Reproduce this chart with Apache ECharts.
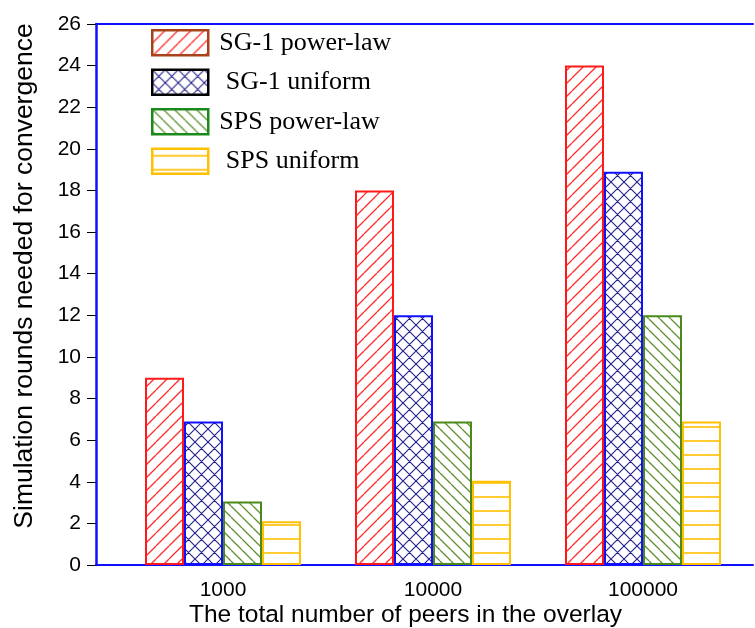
<!DOCTYPE html>
<html>
<head>
<meta charset="utf-8">
<script src="https://cdn.jsdelivr.net/npm/echarts@6/dist/echarts.min.js"></script>
<style>
html,body{margin:0;padding:0;background:#fff;}
#chart{width:755px;height:628px;}
</style>
</head>
<body>
<div id="chart"></div>
<script>
// ---- data ----
const categories = ['1000', '10000', '100000'];
const seriesNames = ['SG-1 power-law', 'SG-1 uniform', 'SPS power-law', 'SPS uniform'];
const sg1PowerLaw = [9, 18, 24];
const sg1Uniform = [6.9, 12, 18.9];
const spsPowerLaw = [3.05, 6.9, 12];
const spsUniform = [2.1, 4.05, 6.9];
const yTicks = [0, 26, 2]; // min, max, interval

// ---- patterns ----
function makePattern(w, h, draw) {
  const c = document.createElement('canvas');
  c.width = w; c.height = h;
  const ctx = c.getContext('2d');
  draw(ctx, w, h);
  return { image: c, repeat: 'repeat' };
}
const redHatch = makePattern(13, 13, (ctx, w, h) => {
  ctx.strokeStyle = '#ff2a2a'; ctx.lineWidth = 1.3;
  ctx.beginPath();
  for (const k of [-w, 0, w]) { ctx.moveTo(k, h); ctx.lineTo(k + w, 0); }
  ctx.stroke();
});
const blueCross = makePattern(13, 13, (ctx, w, h) => {
  ctx.strokeStyle = '#20208a'; ctx.lineWidth = 1.1;
  ctx.beginPath();
  for (const k of [-w, 0, w]) {
    ctx.moveTo(k, h); ctx.lineTo(k + w, 0);
    ctx.moveTo(k, 0); ctx.lineTo(k + w, h);
  }
  ctx.stroke();
});
const greenHatch = makePattern(11, 11, (ctx, w, h) => {
  ctx.strokeStyle = '#5f9030'; ctx.lineWidth = 1.3;
  ctx.beginPath();
  for (const k of [-w, 0, w]) { ctx.moveTo(k, 0); ctx.lineTo(k + w, h); }
  ctx.stroke();
});
const yellowLines = makePattern(8, 14, (ctx, w, h) => {
  ctx.strokeStyle = '#ffc000'; ctx.lineWidth = 1.6;
  ctx.beginPath(); ctx.moveTo(0, 7); ctx.lineTo(w, 7); ctx.stroke();
});

const fills = [redHatch, blueCross, greenHatch, yellowLines];
const borders = ['#ff1a1a', '#1010ff', '#4a8a1a', '#ffc000'];
const legendBorders = ['#a8421a', '#000000', '#1a8a1a', '#ffc000'];
const legendLabels = ['SG-1 power-law', ' SG-1 uniform', 'SPS power-law', ' SPS uniform'];
const values = [sg1PowerLaw, sg1Uniform, spsPowerLaw, spsUniform];

const chart = echarts.init(document.getElementById('chart'), null, { renderer: 'canvas' });
const sans = 'Liberation Sans, Arial, Helvetica, sans-serif';

const option = {
  animation: false,
  backgroundColor: '#fff',
  grid: [
    { left: 96, right: 2, top: 24, bottom: 63, containLabel: false, outerBoundsMode: 'none' },
    { left: 118, right: 7, top: 24, bottom: 63, containLabel: false, outerBoundsMode: 'none' }
  ],
  legend: {
    orient: 'vertical', left: 151, top: 29, padding: 0,
    itemWidth: 56, itemHeight: 25, itemGap: 12,
    icon: 'rect',
    textStyle: { fontFamily: 'Liberation Serif, Times New Roman, serif', fontSize: 26, color: '#000', lineHeight: 26, padding: [0, 0, 0, 6] },
    formatter: n => legendLabels[seriesNames.indexOf(n)],
    data: seriesNames.map((n, i) => ({ name: n, itemStyle: { borderColor: legendBorders[i], borderWidth: 2.5 } }))
  },
  xAxis: [
    {
      gridIndex: 0, type: 'value', min: 0, max: 1, position: 'bottom',
      axisLine: { show: true, lineStyle: { color: '#1010ff', width: 2 } },
      axisTick: { show: false }, axisLabel: { show: false }, splitLine: { show: false },
      name: 'The total number of peers in the overlay', nameLocation: 'middle', nameGap: 38,
      nameTextStyle: { fontFamily: sans, fontSize: 24.5, color: '#000', padding: [0, 38, 0, 0] }
    },
    {
      gridIndex: 0, type: 'value', min: 0, max: 1, position: 'top',
      axisLine: { show: true, lineStyle: { color: '#1010ff', width: 2 } },
      axisTick: { show: false }, axisLabel: { show: false }, splitLine: { show: false }
    },
    {
      gridIndex: 1, type: 'category', data: categories, position: 'bottom',
      axisLine: { show: false }, axisTick: { show: false },
      axisLabel: { fontFamily: sans, fontSize: 21, color: '#000', margin: 15 }
    }
  ],
  yAxis: [
    {
      gridIndex: 0, type: 'value', min: yTicks[0], max: yTicks[1], interval: yTicks[2],
      axisLine: { show: true, lineStyle: { color: '#1010ff', width: 2.5 } },
      axisTick: { show: true, length: 9, lineStyle: { color: '#000', width: 1 } },
      axisLabel: { fontFamily: sans, fontSize: 21, color: '#000', margin: 15 },
      splitLine: { show: false },
      name: 'Simulation rounds needed for convergence', nameLocation: 'middle', nameGap: 58,
      nameTextStyle: { fontFamily: sans, fontSize: 26.5, color: '#000', padding: [0, 0, 0, 37] }
    },
    {
      gridIndex: 1, type: 'value', min: yTicks[0], max: yTicks[1], interval: yTicks[2], show: false
    }
  ],
  series: seriesNames.map((n, i) => ({
    name: n, type: 'bar', xAxisIndex: 2, yAxisIndex: 1,
    barWidth: 39, barGap: '0%',
    data: values[i],
    itemStyle: { color: fills[i], borderColor: borders[i], borderWidth: 2 }
  }))
};
chart.setOption(option);
</script>
</body>
</html>
